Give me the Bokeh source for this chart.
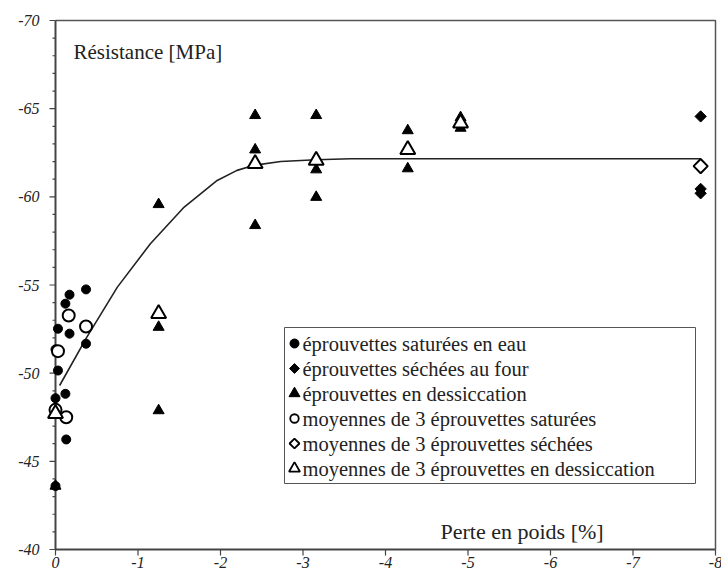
import math
from bokeh.plotting import figure
from bokeh.models import Range1d, Label, ColumnDataSource
from bokeh.embed import file_html
from bokeh.resources import INLINE

# Loss of weight [%] and compressive strength [MPa]
sat_x = [-0.37, -0.17, -0.12, -0.03, -0.17, -0.37, 0.0, -0.03, -0.12, 0.0, -0.13, 0.0]
sat_y = [-54.75, -54.45, -53.94, -52.52, -52.24, -51.67, -51.35, -50.15, -48.83, -48.58, -46.24, -43.6]

dry_x = [-7.82, -7.82, -7.82]
dry_y = [-64.56, -60.45, -60.2]

des_x = [0.0, -1.25, -1.25, -1.25, -2.42, -2.42, -2.42, -3.16, -3.16, -3.16,
         -4.27, -4.27, -4.91, -4.91]
des_y = [-43.6, -59.57, -52.61, -47.88, -64.62, -62.67, -58.38, -64.62, -61.54, -59.98,
         -63.76, -61.6, -64.5, -63.9]

sat_mean_x = [-0.16, -0.37, -0.03, -0.13, 0.0]
sat_mean_y = [-53.27, -52.65, -51.25, -47.5, -47.92]

dry_mean_x = [-7.82]
dry_mean_y = [-61.74]

des_mean_x = [0.0, -1.25, -2.42, -3.16, -4.27, -4.91]
des_mean_y = [-47.7, -53.37, -61.88, -62.06, -62.67, -64.18]

# fitted trend
fit_x = [-0.05, -0.38, -0.75, -1.15, -1.56, -1.96, -2.20, -2.42, -2.73, -3.16, -3.58, -7.82]
fit_y = [-49.3, -52.04, -54.88, -57.34, -59.42, -60.93, -61.5, -61.8, -62.0, -62.1, -62.16, -62.16]

x_ticks = list(range(0, -9, -1))
y_ticks = list(range(-40, -71, -5))
x_tick_labels = [str(v) for v in x_ticks]
y_tick_labels = [str(v) for v in y_ticks]

legend_labels = [
    "éprouvettes saturées en eau",
    "éprouvettes séchées au four",
    "éprouvettes en dessiccation",
    "moyennes de 3 éprouvettes saturées",
    "moyennes de 3 éprouvettes séchées",
    "moyennes de 3 éprouvettes en dessiccation",
]

SERIF = "Liberation Serif"
INK = "#222222"
AXIS = "#444444"

# canvas geometry: the axes are drawn by hand, so the frame fills the whole canvas
W, H = 721, 577
X0_PX, X8_PX = 55, 715        # pixel columns of x = 0 and x = -8
YT_PX, YB_PX = 20, 549        # pixel rows of y = -70 and y = -40
PX_PER_X = (X8_PX - X0_PX) / (x_ticks[0] - x_ticks[-1])
PX_PER_Y = (YB_PX - YT_PX) / (y_ticks[0] - y_ticks[-1])


def px_to_x(px):
    return x_ticks[0] - (px - X0_PX) / PX_PER_X


def px_to_y(py):
    return y_ticks[-1] + (py - YT_PX) / PX_PER_Y


p = figure(width=W, height=H, output_backend="svg", toolbar_location=None,
           x_range=Range1d(px_to_x(0), px_to_x(W)), y_range=Range1d(px_to_y(H), px_to_y(0)),
           x_axis_location=None, y_axis_location=None,
           min_border=0, min_border_left=0, min_border_right=0,
           min_border_top=0, min_border_bottom=0)
p.background_fill_color = "white"
p.border_fill_color = "white"
p.outline_line_color = None
p.grid.visible = False

x_lo, x_hi = x_ticks[0], x_ticks[-1]
y_lo, y_hi = y_ticks[0], y_ticks[-1]

# frame: top and right edges, then the two axis lines
p.line([x_lo, x_hi, x_hi], [y_hi, y_hi, y_lo], line_color="#555555", line_width=1.5)
p.line([x_lo, x_lo, x_hi], [y_hi, y_lo, y_lo], line_color=AXIS, line_width=2)

# tick marks (pointing outwards)
p.segment(x0=x_ticks, y0=[y_lo] * len(x_ticks), x1=x_ticks,
          y1=[px_to_y(YB_PX + 6)] * len(x_ticks), line_color=AXIS, line_width=1.2)
p.segment(x0=[x_lo] * len(y_ticks), y0=y_ticks, x1=[px_to_x(X0_PX - 6)] * len(y_ticks),
          y1=y_ticks, line_color=AXIS, line_width=1.2)
y_minor = [v for v in range(y_lo - 1, y_hi, -1) if v % 5 != 0]
p.segment(x0=[x_lo] * len(y_minor), y0=y_minor, x1=[px_to_x(X0_PX - 3)] * len(y_minor),
          y1=y_minor, line_color=AXIS, line_width=1.2)


def add_text(x, y, text, size, align="left", baseline="middle", style="normal"):
    p.add_layout(Label(x=x, y=y, text=text, text_font=SERIF, text_font_size=size,
                       text_font_style=style, text_color=INK, text_align=align,
                       text_baseline=baseline))


# tick labels
for xt, t in zip(x_ticks, x_tick_labels):
    add_text(xt, px_to_y(YB_PX + 7), t, "16px", align="center", baseline="top", style="italic")
for yt, t in zip(y_ticks, y_tick_labels):
    add_text(px_to_x(X0_PX - 16), yt, t, "16px", align="right", baseline="middle", style="italic")

# data
p.line(fit_x, fit_y, line_color=INK, line_width=1.6)
p.scatter(sat_x, sat_y, marker="circle", size=9, fill_color="black", line_color="black")
p.scatter(dry_x, dry_y, marker="square", angle=math.pi / 4, size=8,
          fill_color="black", line_color="black")
p.scatter(des_x, des_y, marker="triangle", size=11, fill_color="black", line_color="black")
p.scatter(sat_mean_x, sat_mean_y, marker="circle", size=12, fill_color="white",
          line_color="black", line_width=2)
p.scatter(dry_mean_x, dry_mean_y, marker="square", angle=math.pi / 4, size=10,
          fill_color="white", line_color="black", line_width=2)
p.scatter(des_mean_x, des_mean_y, marker="triangle", size=15, fill_color="white",
          line_color="black", line_width=2)

add_text(px_to_x(73), px_to_y(51), "Résistance [MPa]", "21px", baseline="alphabetic")
add_text(px_to_x(440), px_to_y(531), "Perte en poids [%]", "22px", baseline="alphabetic")

# legend box
LG_L, LG_T, LG_R, LG_B = 284, 327, 695, 483
ROW0, ROW_STEP = 343, 25
GLYPH_PX, TEXT_PX = 294, 302
p.quad(left=[px_to_x(LG_L)], right=[px_to_x(LG_R)], top=[px_to_y(LG_T)], bottom=[px_to_y(LG_B)],
       fill_color="white", line_color="#555555", line_width=1)
rows_y = [px_to_y(ROW0 + ROW_STEP * i) for i in range(len(legend_labels))]
leg = ColumnDataSource(dict(
    x=[px_to_x(GLYPH_PX)] * len(legend_labels), y=rows_y,
    marker=["circle", "square", "triangle", "circle", "square", "triangle"],
    size=[9, 7, 11, 8.5, 7, 11],
    angle=[0, math.pi / 4, 0, 0, math.pi / 4, 0],
    fill=["black", "black", "black", "white", "white", "white"],
    lw=[1, 1, 1, 1.8, 1.8, 1.8],
))
p.scatter(x="x", y="y", marker="marker", size="size", angle="angle", fill_color="fill",
          line_color="black", line_width="lw", source=leg)
for ry, t in zip(rows_y, legend_labels):
    add_text(px_to_x(TEXT_PX), ry, t, "20.5px")

open("out.html", "w").write(file_html(p, INLINE))
